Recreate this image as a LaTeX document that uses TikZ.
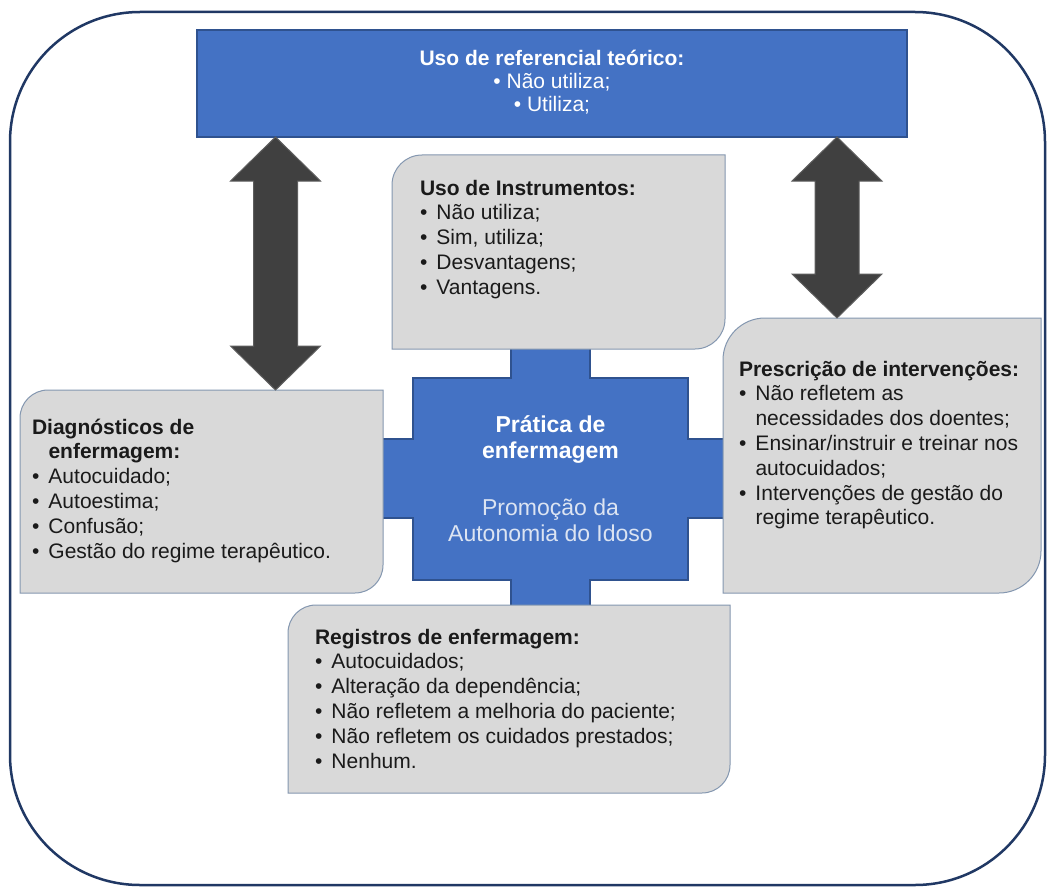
\documentclass[tikz,border=0pt]{standalone}
\usepackage{fontspec}
\setmainfont{Liberation Sans}
\usetikzlibrary{calc}
\definecolor{blueA}{HTML}{4472C4}
\definecolor{blueB}{HTML}{2F528F}
\definecolor{grayA}{HTML}{D9D9D9}
\definecolor{grayB}{HTML}{8497B0}
\definecolor{navy}{HTML}{203864}
\definecolor{arrowA}{HTML}{404040}
\definecolor{arrowB}{HTML}{5E5E5E}
\definecolor{paleblue}{HTML}{DCE4F2}
\definecolor{inkA}{HTML}{1A1A1A}
\newcommand\bul{\makebox[16.5pt][l]{•}}
\newcommand\ind{\hspace*{16.5pt}}
\newcommand\grayshape[2]{%
  \filldraw[graybox] let \p1=(#1.north west), \p2=(#1.south east) in
  (\x1,\y1-#2pt) .. controls (\x1,\y1-0.448*#2pt) and (\x1+0.448*#2pt,\y1) .. (\x1+#2pt,\y1)
  -- (\x2,\y1) -- (\x2,\y2+#2pt) .. controls (\x2,\y2+0.448*#2pt) and (\x2-0.448*#2pt,\y2) .. (\x2-#2pt,\y2)
  -- (\x1,\y2) -- cycle;}
\newcommand\dblarrow[2]{%
  \filldraw[bigarrow] let \p1=(#1), \p2=(#2) in
  (\x1,\y1) -- (\x1+45pt,\y1-44pt) -- (\x1+22pt,\y1-44pt) -- (\x1+22pt,\y2+44pt)
  -- (\x1+45pt,\y2+44pt) -- (\x2,\y2) -- (\x1-45pt,\y2+44pt) -- (\x1-22pt,\y2+44pt)
  -- (\x1-22pt,\y1-44pt) -- (\x1-45pt,\y1-44pt) -- cycle;}
\begin{document}
\begin{tikzpicture}[x=1pt,y=-1pt,
  area/.style={draw=none,inner sep=0pt,outer sep=0pt,anchor=north west},
  graybox/.style={fill=grayA,draw=grayB,line width=1pt},
  bluebox/.style={fill=blueA,draw=blueB,line width=1.5pt,inner sep=0pt,outer sep=0pt,anchor=north west},
  bigarrow/.style={fill=arrowA,draw=arrowB,line width=1pt,line join=miter},
  txt/.style={inner sep=0pt,outer sep=0pt,anchor=base west,text=inkA,font=\fontsize{21}{24.8}\selectfont},
  wtxt/.style={inner sep=0pt,outer sep=0pt,anchor=base,text=white}]
\useasboundingbox (0,0) rectangle (1047,888);
\fill[white] (0,0) rectangle (1047,888);
% outer frame
\draw[navy,line width=2.5pt,rounded corners=130pt] (10,12) rectangle (1045,885);
% central cross
\node[area,minimum width=275pt,minimum height=202pt] (core) at (413,378) {};
\filldraw[fill=blueA,draw=blueB,line width=1.2pt]
  (511,345) -- (590,345) -- (590,378) -- (688,378) -- (688,439) -- (727,439) -- (727,518)
  -- (688,518) -- (688,580) -- (590,580) -- (590,610) -- (511,610) -- (511,580) -- (413,580)
  -- (413,518) -- (379,518) -- (379,439) -- (413,439) -- (413,378) -- (511,378) -- cycle;
\node[wtxt] (core-t) at (550.5,432) {\parbox[t]{300pt}{\centering
  \fontsize{23}{26}\selectfont\textbf{Prática de}\\\textbf{enfermagem}\\[31pt]
  \color{paleblue}Promoção da\\Autonomia do Idoso}};
% top box
\node[bluebox,minimum width=710pt,minimum height=107pt] (top) at (197,30) {};
\node[wtxt] (top-t) at (552,66) {\parbox[t]{500pt}{\centering
  \fontsize{21}{23}\selectfont\textbf{Uso de referencial teórico:}\\• Não utiliza;\\• Utiliza;}};
% gray boxes
\node[area,minimum width=333pt,minimum height=194pt] (instr) at (392,155) {};
\grayshape{instr}{30}
\node[txt] (instr-t) at (420,195) {\parbox[t]{290pt}{\raggedright
  \textbf{Uso de Instrumentos:}\\\bul Não utiliza;\\\bul Sim, utiliza;\\\bul Desvantagens;\\\bul Vantagens.}};
\node[area,minimum width=363pt,minimum height=203pt] (diag) at (20,390) {};
\grayshape{diag}{28}
\node[txt] (diag-t) at (32,434) {\parbox[t]{340pt}{\raggedright
  \textbf{Diagnósticos de}\\\ind\textbf{enfermagem:}\\\bul Autocuidado;\\\bul Autoestima;\\\bul Confusão;\\\bul Gestão do regime terapêutico.}};
\node[area,minimum width=318pt,minimum height=275pt] (presc) at (723,318) {};
\grayshape{presc}{42}
\node[txt] (presc-t) at (739,376) {\parbox[t]{300pt}{\raggedright
  \textbf{Prescrição de intervenções:}\\\bul Não refletem as\\\ind necessidades dos doentes;\\\bul Ensinar/instruir e treinar nos\\\ind autocuidados;\\\bul Intervenções de gestão do\\\ind regime terapêutico.}};
\node[area,minimum width=442pt,minimum height=188pt] (reg) at (288,605) {};
\grayshape{reg}{28}
\node[txt] (reg-t) at (315,644) {\parbox[t]{410pt}{\raggedright
  \textbf{Registros de enfermagem:}\\\bul Autocuidados;\\\bul Alteração da dependência;\\\bul Não refletem a melhoria do paciente;\\\bul Não refletem os cuidados prestados;\\\bul Nenhum.}};
% double arrows
\coordinate (lx) at (275.5,0);
\coordinate (rx) at (837,0);
\dblarrow{top.south -| lx}{diag.north -| lx}
\dblarrow{top.south -| rx}{presc.north -| rx}
\end{tikzpicture}
\end{document}
